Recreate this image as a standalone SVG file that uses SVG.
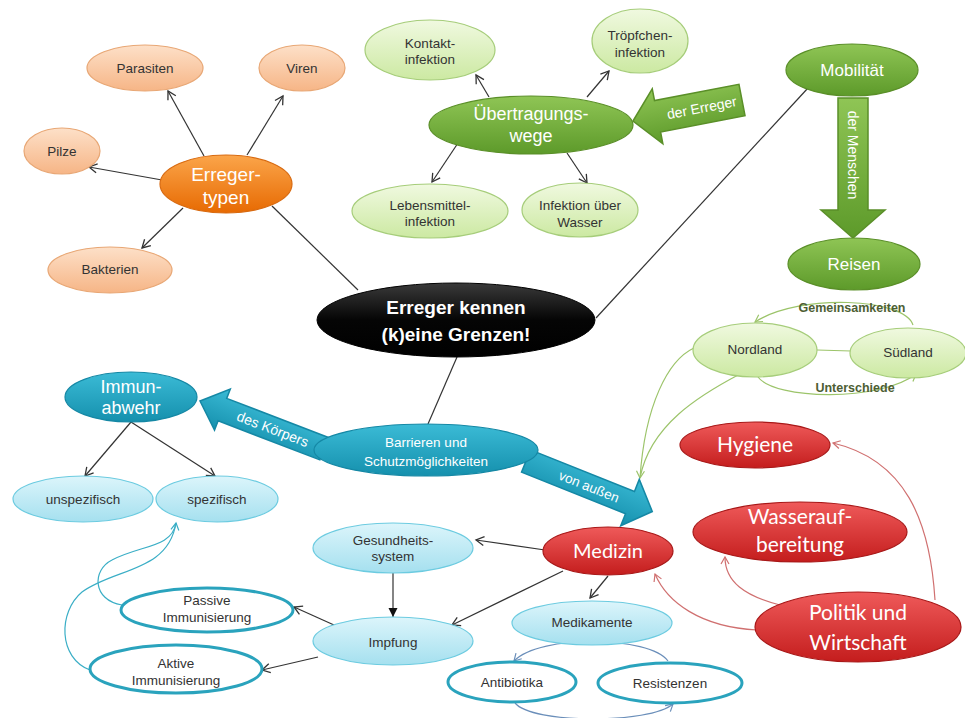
<svg xmlns="http://www.w3.org/2000/svg" width="965" height="718" viewBox="0 0 965 718">
<defs>
<linearGradient id="gOrL" x1="0" y1="0" x2="0" y2="1"><stop offset="0" stop-color="#fde0c8"/><stop offset="1" stop-color="#f6b586"/></linearGradient>
<linearGradient id="gOr" x1="0" y1="0" x2="0" y2="1"><stop offset="0" stop-color="#fba54a"/><stop offset="1" stop-color="#e76a02"/></linearGradient>
<linearGradient id="gGr" x1="0" y1="0" x2="0" y2="1"><stop offset="0" stop-color="#8fc555"/><stop offset="1" stop-color="#5d9a2a"/></linearGradient>
<linearGradient id="gGrL" x1="0" y1="0" x2="0" y2="1"><stop offset="0" stop-color="#f0f9e0"/><stop offset="1" stop-color="#cce9a2"/></linearGradient>
<linearGradient id="gTe" x1="0" y1="0" x2="0" y2="1"><stop offset="0" stop-color="#3bbbd6"/><stop offset="1" stop-color="#1590ad"/></linearGradient>
<linearGradient id="gCy" x1="0" y1="0" x2="0" y2="1"><stop offset="0" stop-color="#dcf5fb"/><stop offset="1" stop-color="#a5e0ef"/></linearGradient>
<linearGradient id="gRe" x1="0" y1="0" x2="0" y2="1"><stop offset="0" stop-color="#ef5a5a"/><stop offset="1" stop-color="#c41d1d"/></linearGradient>
<linearGradient id="gBk" x1="0" y1="0" x2="0" y2="1"><stop offset="0" stop-color="#3a3a3a"/><stop offset="0.5" stop-color="#050505"/><stop offset="1" stop-color="#000"/></linearGradient>
<marker id="aD" viewBox="-10 -6 12 12" refX="0" refY="0" markerWidth="12" markerHeight="12" markerUnits="userSpaceOnUse" orient="auto"><path d="M-8,-4.5 L0,0 L-8,4.5" fill="none" stroke="#333" stroke-width="1.3"/></marker>
<marker id="aF" viewBox="-10 -6 12 12" refX="0" refY="0" markerWidth="12" markerHeight="12" markerUnits="userSpaceOnUse" orient="auto"><path d="M-9,-4.5 L0,0 L-9,4.5 Z" fill="#111"/></marker>
<marker id="aG" viewBox="-10 -6 12 12" refX="0" refY="0" markerWidth="12" markerHeight="12" markerUnits="userSpaceOnUse" orient="auto"><path d="M-7,-4 L0,0 L-7,4" fill="none" stroke="#9cc46a" stroke-width="1.2"/></marker>
<marker id="aR" viewBox="-10 -6 12 12" refX="0" refY="0" markerWidth="12" markerHeight="12" markerUnits="userSpaceOnUse" orient="auto"><path d="M-7,-4 L0,0 L-7,4" fill="none" stroke="#d07070" stroke-width="1.2"/></marker>
<marker id="aT" viewBox="-10 -6 12 12" refX="0" refY="0" markerWidth="12" markerHeight="12" markerUnits="userSpaceOnUse" orient="auto"><path d="M-7,-4 L0,0 L-7,4" fill="none" stroke="#3aaec6" stroke-width="1.2"/></marker>
<marker id="aB" viewBox="-10 -6 12 12" refX="0" refY="0" markerWidth="12" markerHeight="12" markerUnits="userSpaceOnUse" orient="auto"><path d="M-7,-4 L0,0 L-7,4" fill="none" stroke="#6b8fba" stroke-width="1.2"/></marker>
</defs>
<style>
text{font-family:"Liberation Sans",Arial,sans-serif;text-anchor:middle}
.t{font-size:13.5px;fill:#333}
.w{fill:#fff;font-size:18px}
.c{font-family:Lato,"Open Sans",sans-serif;fill:#fff}
.oL{fill:url(#gOrL);stroke:#e8a775;stroke-width:1.2}
.oD{fill:url(#gOr);stroke:#d86a10;stroke-width:1.2}
.gD{fill:url(#gGr);stroke:#5a8f28;stroke-width:1.2}
.gL{fill:url(#gGrL);stroke:#a6cd7a;stroke-width:1.2}
.tD{fill:url(#gTe);stroke:#1588a5;stroke-width:1.2}
.cL{fill:url(#gCy);stroke:#6ccbe0;stroke-width:1.2}
.rD{fill:url(#gRe);stroke:#a81818;stroke-width:1.2}
.oT{fill:#fff;stroke:#2aa3bd;stroke-width:3}
.ln{fill:none;stroke:#333;stroke-width:1.2}
.lg{fill:none;stroke:#9cc46a;stroke-width:1.2}
.lr{fill:none;stroke:#d07070;stroke-width:1.2}
.lt{fill:none;stroke:#3aaec6;stroke-width:1.2}
.lb{fill:none;stroke:#6b8fba;stroke-width:1.2}
.ba{stroke-width:1.5}
</style>
<rect width="965" height="718" fill="#fff"/>

<g id="connectors">
<path class="ln" d="M272,206 L358,290"/>
<path class="ln" d="M457,357 L428,424"/>
<path class="ln" d="M808,88 L596,318"/>
<path class="ln" d="M204,156 L168,91" marker-end="url(#aD)"/>
<path class="ln" d="M247,155 L283,96" marker-end="url(#aD)"/>
<path class="ln" d="M162,180 L89,167" marker-end="url(#aD)"/>
<path class="ln" d="M183,208 L142,248" marker-end="url(#aD)"/>
<path class="ln" d="M489,97 L476,75" marker-end="url(#aD)"/>
<path class="ln" d="M587,97 L609,71" marker-end="url(#aD)"/>
<path class="ln" d="M458,143 L432,182" marker-end="url(#aD)"/>
<path class="ln" d="M567,153 L587,183" marker-end="url(#aD)"/>
<path class="ln" d="M131,422 L85,476" marker-end="url(#aD)"/>
<path class="ln" d="M131,422 L215,476" marker-end="url(#aD)"/>
<path class="ln" d="M545,550 L476,540" marker-end="url(#aD)"/>
<path class="ln" d="M393,573 L393,617" marker-end="url(#aF)"/>
<path class="ln" d="M563,571 L452,625" marker-end="url(#aD)"/>
<path class="ln" d="M608,576 L590,598" marker-end="url(#aD)"/>
<path class="ln" d="M334,625 L294,607" marker-end="url(#aD)"/>
<path class="ln" d="M318,657 L262,670" marker-end="url(#aD)"/>
<path class="lg" d="M913,325 C905,298 800,293 755,322" marker-end="url(#aG)"/>
<path class="lg" d="M758,377 C775,400 880,402 916,374" marker-end="url(#aG)"/>
<path class="lg" d="M817,350 L851,351"/>
<path class="lg" d="M694,348 C668,360 645,405 640,478" marker-end="url(#aG)"/>
<path class="lg" d="M740,374 C700,395 650,425 640,478"/>
<path class="lr" d="M935,600 C930,520 905,460 833,443" marker-end="url(#aR)"/>
<path class="lr" d="M780,605 C745,596 725,582 725,557" marker-end="url(#aR)"/>
<path class="lr" d="M757,630 C700,627 667,602 655,574" marker-end="url(#aR)"/>
<path class="lb" d="M668,661 C650,636 540,634 514,661" marker-end="url(#aB)"/>
<path class="lb" d="M515,703 C532,724 650,724 673,704" marker-end="url(#aB)"/>
<path class="lt" d="M122,605 C92,600 92,570 112,560 C140,545 172,548 176,523" marker-end="url(#aT)"/>
<path class="lt" d="M90,670 C58,658 58,612 82,592 C115,568 168,572 176,523"/>
<g id="arrow-erreger" transform="translate(633,121) rotate(-10.9)">
<polygon class="gD ba" points="0,0 25,-28 25,-16 111,-16 111,16 25,16 25,28"/>
<text x="70" y="5" class="w" style="font-size:14px">der Erreger</text>
</g>
<g id="arrow-menschen">
<polygon class="gD ba" points="838,98 868,98 868,210 885,210 853,238 821,210 838,210"/>
<text transform="translate(853,155) rotate(90)" x="0" y="5" class="w" style="font-size:14px">der Menschen</text>
</g>
<g id="arrow-koerper" transform="translate(200,401) rotate(21)">
<polygon class="tD ba" points="0,0 24,-22 24,-12 133,-12 133,12 24,12 24,22"/>
<text x="78" y="5" class="w" style="font-size:14px">des Körpers</text>
</g>
<g id="arrow-aussen" transform="translate(526,461) rotate(21.8)">
<polygon class="tD ba" points="0,-12 112,-12 112,-25 136,0 112,25 112,12 0,12"/>
<text x="68" y="5" class="w" style="font-size:13.5px">von außen</text>
</g>
</g>

<g id="n-erregertypen"><ellipse class="oD" cx="226" cy="184" rx="66" ry="29"/><text class="w" x="226" y="181" style="font-size:19px">Erreger-</text><text class="w" x="226" y="204" style="font-size:19px">typen</text></g>
<g id="n-parasiten"><ellipse class="oL" cx="145" cy="68" rx="58" ry="23"/><text class="t" x="145" y="73">Parasiten</text></g>
<g id="n-viren"><ellipse class="oL" cx="302" cy="68" rx="43" ry="23"/><text class="t" x="302" y="73">Viren</text></g>
<g id="n-pilze"><ellipse class="oL" cx="62" cy="151" rx="38" ry="23"/><text class="t" x="62" y="156">Pilze</text></g>
<g id="n-bakterien"><ellipse class="oL" cx="110" cy="270" rx="62" ry="23"/><text class="t" x="110" y="274">Bakterien</text></g>

<g id="n-uebertragungswege"><ellipse class="gD" cx="531" cy="125" rx="102" ry="29"/><text class="w" x="531" y="120">Übertragungs-</text><text class="w" x="531" y="142">wege</text></g>
<g id="n-kontakt"><ellipse class="gL" cx="430" cy="50" rx="65" ry="30"/><text class="t" x="430" y="48">Kontakt-</text><text class="t" x="430" y="64">infektion</text></g>
<g id="n-troepfchen"><ellipse class="gL" cx="640" cy="41" rx="48" ry="32"/><text class="t" x="640" y="40">Tröpfchen-</text><text class="t" x="640" y="57">infektion</text></g>
<g id="n-lebensmittel"><ellipse class="gL" cx="430" cy="211" rx="78" ry="27"/><text class="t" x="430" y="210">Lebensmittel-</text><text class="t" x="430" y="226">infektion</text></g>
<g id="n-wasser"><ellipse class="gL" cx="580" cy="210" rx="58" ry="27"/><text class="t" x="580" y="210">Infektion über</text><text class="t" x="580" y="227">Wasser</text></g>

<g id="n-mobilitaet"><ellipse class="gD" cx="852" cy="70" rx="66" ry="26"/><text class="w" x="852" y="76" style="font-size:17px">Mobilität</text></g>
<g id="n-reisen"><ellipse class="gD" cx="854" cy="264" rx="66" ry="26"/><text class="w" x="854" y="270" style="font-size:17px">Reisen</text></g>
<g id="n-nordland"><ellipse class="gL" cx="755" cy="350" rx="62" ry="27"/><text class="t" x="755" y="354">Nordland</text></g>
<g id="n-suedland"><ellipse class="gL" cx="908" cy="353" rx="58" ry="25"/><text class="t" x="908" y="357">Südland</text></g>
<g id="l-gemeinsam"><text x="852" y="312" style="font-size:12.5px;font-weight:bold;fill:#4d5e33">Gemeinsamkeiten</text></g>
<g id="l-unterschiede"><text x="855" y="392" style="font-size:12.5px;font-weight:bold;fill:#4d5e33">Unterschiede</text></g>

<g id="n-zentral"><ellipse cx="456" cy="320" rx="139" ry="37" fill="url(#gBk)" stroke="#000"/><text x="456" y="314" style="font-size:19px;font-weight:bold;fill:#fff">Erreger kennen</text><text x="456" y="341" style="font-size:19px;font-weight:bold;fill:#fff">(k)eine Grenzen!</text></g>

<g id="n-immunabwehr"><ellipse class="tD" cx="131" cy="397" rx="66" ry="25"/><text class="w" x="131" y="393">Immun-</text><text class="w" x="131" y="414">abwehr</text></g>
<g id="n-unspezifisch"><ellipse class="cL" cx="83" cy="499" rx="70" ry="23"/><text class="t" x="83" y="504">unspezifisch</text></g>
<g id="n-spezifisch"><ellipse class="cL" cx="217" cy="499" rx="61" ry="23"/><text class="t" x="217" y="504">spezifisch</text></g>
<g id="n-passiv"><ellipse class="oT" cx="207" cy="610" rx="86" ry="22"/><text class="t" x="207" y="605">Passive</text><text class="t" x="207" y="622">Immunisierung</text></g>
<g id="n-aktiv"><ellipse class="oT" cx="176" cy="669" rx="86" ry="24"/><text class="t" x="176" y="668">Aktive</text><text class="t" x="176" y="685">Immunisierung</text></g>

<g id="n-barrieren"><ellipse class="tD" cx="426" cy="450" rx="112" ry="26"/><text class="w" x="426" y="447" style="font-size:13.5px">Barrieren und</text><text class="w" x="426" y="466" style="font-size:13.5px">Schutzmöglichkeiten</text></g>
<g id="n-medizin"><ellipse class="rD" cx="608" cy="551" rx="65" ry="24"/><text class="c" x="608" y="558" style="font-size:20px">Medizin</text></g>
<g id="n-gesundheit"><ellipse class="cL" cx="393" cy="548" rx="80" ry="25"/><text class="t" x="393" y="545">Gesundheits-</text><text class="t" x="393" y="561">system</text></g>
<g id="n-impfung"><ellipse class="cL" cx="393" cy="641" rx="80" ry="24"/><text class="t" x="393" y="647">Impfung</text></g>
<g id="n-medikamente"><ellipse class="cL" cx="592" cy="623" rx="80" ry="22"/><text class="t" x="592" y="627">Medikamente</text></g>
<g id="n-antibiotika"><ellipse class="oT" cx="512" cy="682" rx="64" ry="20"/><text class="t" x="512" y="687">Antibiotika</text></g>
<g id="n-resistenzen"><ellipse class="oT" cx="670" cy="683" rx="72" ry="20"/><text class="t" x="670" y="688">Resistenzen</text></g>

<g id="n-hygiene"><ellipse class="rD" cx="755" cy="445" rx="75" ry="23"/><text class="c" x="755" y="452" style="font-size:21px">Hygiene</text></g>
<g id="n-wasseraufbereitung"><ellipse class="rD" cx="800" cy="532" rx="107" ry="30"/><text class="c" x="800" y="524" style="font-size:21px">Wasserauf-</text><text class="c" x="800" y="552" style="font-size:21px">bereitung</text></g>
<g id="n-politik"><ellipse class="rD" cx="858" cy="627" rx="103" ry="35"/><text class="c" x="858" y="620" style="font-size:21px">Politik und</text><text class="c" x="858" y="650" style="font-size:21px">Wirtschaft</text></g>
</svg>
